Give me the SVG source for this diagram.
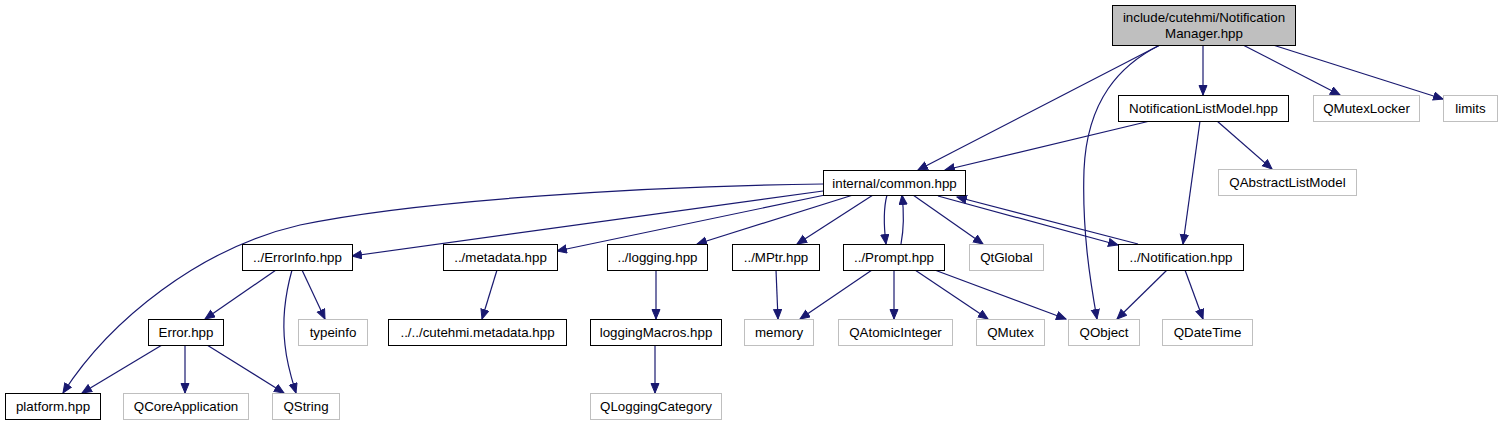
<svg xmlns="http://www.w3.org/2000/svg" width="1502" height="425" viewBox="0 0 1502 425">
<style>
text{font-family:"Liberation Sans",Arial,Helvetica,sans-serif;font-size:13.33px;fill:#000;text-anchor:middle}
.n rect{fill:#fff;stroke:#000;stroke-width:1}
.g rect{fill:#fff;stroke:#bfbfbf;stroke-width:1}
.m rect{fill:#bfbfbf;stroke:#000;stroke-width:1}
#edges path{fill:none;stroke:#191970;stroke-width:1.2;marker-end:url(#ah)}
</style>
<defs>
<marker id="ah" markerUnits="userSpaceOnUse" markerWidth="12" markerHeight="10" refX="10" refY="4.5" orient="auto">
<path d="M0.5,0.5 L10,4.5 L0.5,8.5 z" fill="#191970" stroke="#191970" stroke-width="1"/>
</marker>
</defs>
<rect x="0" y="0" width="1502" height="425" fill="#fff"/>
<g id="edges">
<path d="M1160,45 L918,170"/>
<path d="M1160,45 C1120,65 1087,100 1084,170 C1082,230 1090,280 1097,319"/>
<path d="M1203,45 L1203,95"/>
<path d="M1243,45 L1340,95"/>
<path d="M1273,45 L1443,99"/>
<path d="M1150,121 L945,170"/>
<path d="M1200,121 L1183,244"/>
<path d="M1217,121 L1272,169"/>
<path d="M823,184 C650,186 420,200 300,225 C200,248 110,320 63,393"/>
<path d="M823,191 L352,256"/>
<path d="M825,195 L557,251"/>
<path d="M853,195 L697,244"/>
<path d="M873,195 L797,244"/>
<path d="M887,195 C883,210 884,228 886,244"/>
<path d="M901,244 C904,228 904,212 902,195"/>
<path d="M913,195 L983,244"/>
<path d="M938,196 L1118,245"/>
<path d="M1138,244 L957,197"/>
<path d="M276,270 L205,319"/>
<path d="M292,270 C285,295 282,320 285,345 C287,365 292,380 296,393"/>
<path d="M302,270 L325,319"/>
<path d="M162,345 L82,393"/>
<path d="M185,345 L185,393"/>
<path d="M207,345 L284,393"/>
<path d="M497,270 L482,319"/>
<path d="M656,270 L656,319"/>
<path d="M655,345 L655,393"/>
<path d="M776,270 L778,319"/>
<path d="M872,270 L800,319"/>
<path d="M894,270 L894,319"/>
<path d="M915,270 L988,319"/>
<path d="M932,269 L1066,319"/>
<path d="M1167,270 L1117,319"/>
<path d="M1185,270 L1203,319"/>
</g>
<g id="node-nm" class="m"><rect x="1112.5" y="5.5" width="183" height="40"/><text x="1204" y="22">include/cutehmi/Notification</text><text x="1204" y="38">Manager.hpp</text></g>
<g id="node-nlm" class="n"><rect x="1118.5" y="95.5" width="170" height="26"/><text x="1203.5" y="113">NotificationListModel.hpp</text></g>
<g id="node-qmutexlocker" class="g"><rect x="1313.5" y="95.5" width="106" height="26"/><text x="1366.5" y="113">QMutexLocker</text></g>
<g id="node-limits" class="g"><rect x="1443.5" y="95.5" width="54" height="26"/><text x="1470.5" y="113">limits</text></g>
<g id="node-qabstractlistmodel" class="g"><rect x="1218.5" y="169.5" width="138" height="26"/><text x="1287.5" y="187">QAbstractListModel</text></g>
<g id="node-common" class="n"><rect x="823.5" y="170.5" width="142" height="25"/><text x="894.5" y="187.5">internal/common.hpp</text></g>
<g id="node-errorinfo" class="n"><rect x="242.5" y="244.5" width="110" height="26"/><text x="297.5" y="262">../ErrorInfo.hpp</text></g>
<g id="node-metadata" class="n"><rect x="443.5" y="244.5" width="114" height="26"/><text x="500.5" y="262">../metadata.hpp</text></g>
<g id="node-logging" class="n"><rect x="607.5" y="244.5" width="100" height="26"/><text x="657.5" y="262">../logging.hpp</text></g>
<g id="node-mptr" class="n"><rect x="732.5" y="244.5" width="87" height="26"/><text x="776" y="262">../MPtr.hpp</text></g>
<g id="node-prompt" class="n"><rect x="843.5" y="244.5" width="101" height="26"/><text x="894" y="262">../Prompt.hpp</text></g>
<g id="node-qtglobal" class="g"><rect x="969.5" y="244.5" width="74" height="26"/><text x="1006.5" y="262">QtGlobal</text></g>
<g id="node-notification" class="n"><rect x="1118.5" y="244.5" width="125" height="26"/><text x="1181" y="262">../Notification.hpp</text></g>
<g id="node-error" class="n"><rect x="148.5" y="319.5" width="75" height="26"/><text x="186" y="337">Error.hpp</text></g>
<g id="node-typeinfo" class="g"><rect x="298.5" y="319.5" width="69" height="26"/><text x="333" y="337">typeinfo</text></g>
<g id="node-cutehmimetadata" class="n"><rect x="388.5" y="319.5" width="178" height="26"/><text x="477.5" y="337">../../cutehmi.metadata.hpp</text></g>
<g id="node-loggingmacros" class="n"><rect x="590.5" y="319.5" width="131" height="26"/><text x="656" y="337">loggingMacros.hpp</text></g>
<g id="node-memory" class="g"><rect x="744.5" y="319.5" width="69" height="26"/><text x="779" y="337">memory</text></g>
<g id="node-qatomicinteger" class="g"><rect x="838.5" y="319.5" width="114" height="26"/><text x="895.5" y="337">QAtomicInteger</text></g>
<g id="node-qmutex" class="g"><rect x="976.5" y="319.5" width="68" height="26"/><text x="1010.5" y="337">QMutex</text></g>
<g id="node-qobject" class="g"><rect x="1068.5" y="319.5" width="71" height="26"/><text x="1104" y="337">QObject</text></g>
<g id="node-qdatetime" class="g"><rect x="1162.5" y="319.5" width="90" height="26"/><text x="1207.5" y="337">QDateTime</text></g>
<g id="node-platform" class="n"><rect x="5.5" y="393.5" width="95" height="26"/><text x="53" y="411">platform.hpp</text></g>
<g id="node-qcoreapplication" class="g"><rect x="123.5" y="393.5" width="125" height="26"/><text x="186" y="411">QCoreApplication</text></g>
<g id="node-qstring" class="g"><rect x="272.5" y="393.5" width="67" height="26"/><text x="306" y="411">QString</text></g>
<g id="node-qloggingcategory" class="g"><rect x="590.5" y="393.5" width="131" height="26"/><text x="656" y="411">QLoggingCategory</text></g>
</svg>
